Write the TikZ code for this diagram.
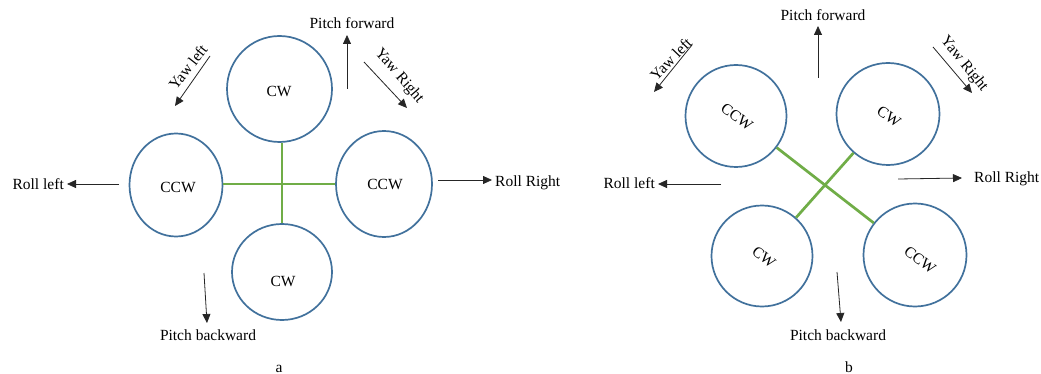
\documentclass[tikz,border=0pt]{standalone}
\usepackage{fontspec}
\setmainfont{Liberation Serif}
\usetikzlibrary{shapes.geometric,arrows.meta}
\definecolor{rotorblue}{HTML}{41719C}
\definecolor{armgreen}{HTML}{70AD47}
\begin{document}
\begin{tikzpicture}[x=1pt,y=-1pt,
  rotor/.style={draw=rotorblue,line width=1.7pt,ellipse,inner sep=0pt},
  arm/.style={draw=armgreen,line width=2.7pt},
  move/.style={draw=black!85,line width=0.8pt,-{Triangle[length=9pt,width=8pt]}},
  lbl/.style={font=\fontsize{15.5}{18}\selectfont,inner sep=0pt},
]
\useasboundingbox (0,0) rectangle (1041,374);
\fill[white] (0,0) rectangle (1041,374);

% ---------- (a) plus configuration ----------
\node[rotor,minimum width=105pt,minimum height=106pt] (aT) at (279.5,89) {};
\node[rotor,minimum width=93pt,minimum height=103pt] (aL) at (176,185) {};
\node[rotor,minimum width=96pt,minimum height=106pt] (aR) at (384,184) {};
\node[rotor,minimum width=100pt,minimum height=96pt] (aB) at (282,272) {};
\draw[arm] (aB.north) -- (aB.north |- aT.south);
\draw[arm] (aR.west) -- (aR.west -| aL.east);

\node[lbl,anchor=base] (aTt) at (279,97) {CW};
\node[lbl,anchor=base] (aLt) at (178,193) {CCW};
\node[lbl,anchor=base] (aRt) at (385,190) {CCW};
\node[lbl,anchor=base] (aBt) at (283,286) {CW};

\coordinate (aPFs) at (347,89);  \coordinate (aPFe) at (347,35);
\coordinate (aYLs) at (210,56);  \coordinate (aYLe) at (175,106);
\coordinate (aYRs) at (364,62);  \coordinate (aYRe) at (407,108);
\coordinate (aRLs) at (119,184); \coordinate (aRLe) at (67,184);
\coordinate (aRRs) at (438,180); \coordinate (aRRe) at (492,180);
\coordinate (aPBs) at (204,273); \coordinate (aPBe) at (207,323);
\draw[move] (aPFs) -- (aPFe);
\draw[move] (aYLs) -- (aYLe);
\draw[move] (aYRs) -- (aYRe);
\draw[move] (aRLs) -- (aRLe);
\draw[move] (aRRs) -- (aRRe);
\draw[move] (aPBs) -- (aPBe);

\node[lbl,anchor=base] (aPF) at (352,29) {Pitch forward};
\node[lbl,rotate=52] (aYL) at (188,67) {Yaw left};
\node[lbl,rotate=-49] (aYR) at (399,76) {Yaw Right};
\node[lbl,anchor=base east] (aRL) at (64,190) {Roll left};
\node[lbl,anchor=base west] (aRR) at (495,187) {Roll Right};
\node[lbl,anchor=base] (aPB) at (208,340) {Pitch backward};
\node[lbl,anchor=base] (aCap) at (279,372) {a};

% ---------- (b) cross configuration ----------
\node[rotor,minimum width=101pt,minimum height=102pt] (bTL) at (736,116) {};
\node[rotor,minimum width=103pt,minimum height=102pt] (bTR) at (888,114) {};
\node[rotor,minimum width=101pt,minimum height=101pt] (bBL) at (762,256) {};
\node[rotor,minimum width=103pt,minimum height=103pt] (bBR) at (915,255) {};
\draw[arm] (bTL) -- (bBR);
\draw[arm] (bTR) -- (bBL);

\node[lbl,rotate=-37] (bTLt) at (737,117) {CCW};
\node[lbl,rotate=-35] (bTRt) at (889,117) {CW};
\node[lbl,rotate=-39] (bBLt) at (764,257) {CW};
\node[lbl,rotate=-38] (bBRt) at (920,260) {CCW};

\coordinate (bPFs) at (818,78);  \coordinate (bPFe) at (818,26);
\coordinate (bYLs) at (692,45);  \coordinate (bYLe) at (654,92);
\coordinate (bYRs) at (933,47);  \coordinate (bYRe) at (972,93);
\coordinate (bRLs) at (721,184); \coordinate (bRLe) at (658,184);
\coordinate (bRRs) at (898,179); \coordinate (bRRe) at (962,178);
\coordinate (bPBs) at (837,272); \coordinate (bPBe) at (841,322);
\draw[move] (bPFs) -- (bPFe);
\draw[move] (bYLs) -- (bYLe);
\draw[move] (bYRs) -- (bYRe);
\draw[move] (bRLs) -- (bRLe);
\draw[move] (bRRs) -- (bRRe);
\draw[move] (bPBs) -- (bPBe);

\node[lbl,anchor=base] (bPF) at (823,21) {Pitch forward};
\node[lbl,rotate=46] (bYL) at (671,59) {Yaw left};
\node[lbl,rotate=-51] (bYR) at (964,64) {Yaw Right};
\node[lbl,anchor=base east] (bRL) at (655,189) {Roll left};
\node[lbl,anchor=base west] (bRR) at (974,183) {Roll Right};
\node[lbl,anchor=base] (bPB) at (838,340) {Pitch backward};
\node[lbl,anchor=base] (bCap) at (849,372) {b};
\end{tikzpicture}
\end{document}
